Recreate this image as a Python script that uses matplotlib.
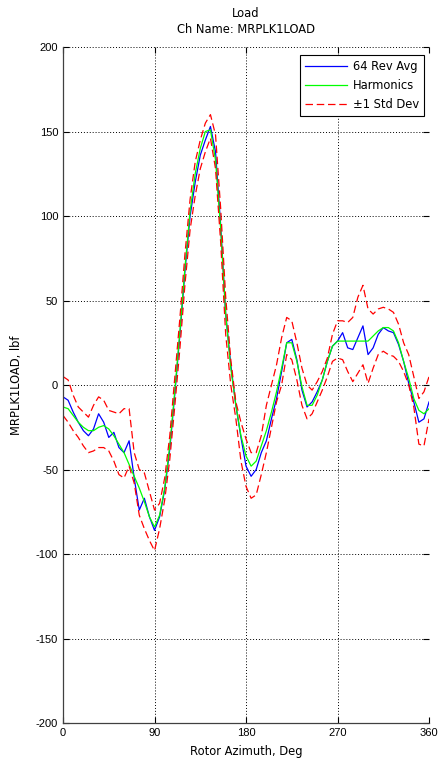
import numpy as np
import matplotlib
matplotlib.use("Agg")
import matplotlib.pyplot as plt

plt.rcParams["font.family"] = ["Liberation Sans", "DejaVu Sans"]
plt.rcParams["axes.unicode_minus"] = False

# rotor azimuth, deg (every 5 deg)
azimuth = list(range(0, 361, 5))

# 64 rev average
rev_avg = [-7, -9, -16, -22, -27, -30, -26, -17, -22, -31, -28, -37, -40, -33, -55, -74, -67, -78, -86,
           -78, -62, -38, -5, 30, 68, 100, 120, 136, 145, 153, 138, 95, 42, 12, -12, -31, -48,
           -54, -50, -40, -33, -20, -8, 8, 25, 27, 15, -3, -13, -10, -4, 3, 14, 23, 26,
           31, 22, 21, 28, 35, 18, 22, 30, 34, 32, 31, 24, 14, 1, -10, -22, -20, -10]

# harmonic fit
harmonics = [-13, -14, -18, -22, -25, -27, -27, -25, -24, -26, -30, -35, -40, -47, -54, -61, -69, -78, -84,
             -77, -61, -36, -3, 32, 70, 103, 125, 140, 150, 151, 133, 93, 42, 10, -12, -30, -42,
             -48, -45, -36, -27, -16, -4, 10, 25, 25, 14, -1, -12, -12, -6, 3, 14, 23, 26,
             26, 26, 26, 26, 26, 26, 29, 32, 34, 34, 32, 25, 14, 4, -8, -15, -17, -14]

# +1 std dev
upper = [5, 3, -6, -13, -16, -19, -12, -7, -9, -15, -16, -17, -14, -14, -40, -50, -52, -63, -74,
         -70, -55, -30, 5, 40, 78, 110, 132, 145, 155, 160, 148, 105, 52, 15, -10, -22, -32,
         -40, -40, -30, -12, 0, 12, 28, 40, 38, 25, 10, 0, -3, 2, 8, 16, 30, 38,
         38, 37, 40, 52, 59, 45, 42, 45, 46, 45, 43, 36, 25, 18, 5, -8, -4, 5]

# -1 std dev
lower = [-18, -22, -27, -31, -36, -40, -39, -37, -37, -39, -45, -53, -55, -48, -58, -77, -85, -92, -98,
         -85, -68, -44, -12, 22, 60, 92, 112, 128, 138, 146, 128, 85, 30, 0, -20, -45, -60,
         -67, -65, -53, -40, -25, -10, 0, 18, 15, 3, -12, -20, -17, -10, -3, 5, 14, 16,
         15, 8, 2, 7, 12, 1, 10, 18, 20, 18, 17, 14, 8, 0, -13, -35, -36, -20]

label_font = ["DejaVu Sans"]
label_size = 8.3

fig = plt.figure(figsize=(4.41, 7.66), dpi=100)
ax = fig.add_axes([0.1429, 0.0561, 0.83, 0.8825])

ax.plot(azimuth, rev_avg, color="#0000ff", lw=0.9, label="64 Rev Avg")
ax.plot(azimuth, harmonics, color="#00ff00", lw=0.9, label="Harmonics")
ax.plot(azimuth, upper, color="#ff0000", lw=0.9, dashes=(6, 3), label="\u00b11 Std Dev")
ax.plot(azimuth, lower, color="#ff0000", lw=0.9, dashes=(6, 3))

ax.set_xlim(0, 360)
ax.set_ylim(-200, 200)
ax.set_xticks([0, 90, 180, 270, 360])
ax.set_yticks(range(-200, 201, 50))
ax.grid(True, color="black", linestyle=(0, (1, 2)), lw=0.7)
ax.tick_params(direction="in", length=4, labelsize=8, top=True, right=True, pad=3.5)

for side in ["top", "right"]:
    ax.spines[side].set_visible(False)
for side in ["left", "bottom"]:
    ax.spines[side].set_color("#404040")
    ax.spines[side].set_linewidth(0.9)

ax.set_xlabel("Rotor Azimuth, Deg", fontsize=label_size, family=label_font, labelpad=5)
ax.set_ylabel("MRPLK1LOAD, lbf", fontsize=label_size, family=label_font, labelpad=9)
ax.set_title("Load\nCh Name: MRPLK1LOAD", fontsize=label_size, family=label_font,
             pad=10, linespacing=1.35)

leg = ax.legend(loc="upper right", bbox_to_anchor=(0.986, 0.988), borderaxespad=0,
                prop={"family": label_font, "size": label_size}, fancybox=False,
                edgecolor="black", framealpha=1, handlelength=3.6, handletextpad=0.5,
                labelspacing=0.5, borderpad=0.45)
leg.get_frame().set_linewidth(0.8)

fig.savefig("out.png", dpi=100)
